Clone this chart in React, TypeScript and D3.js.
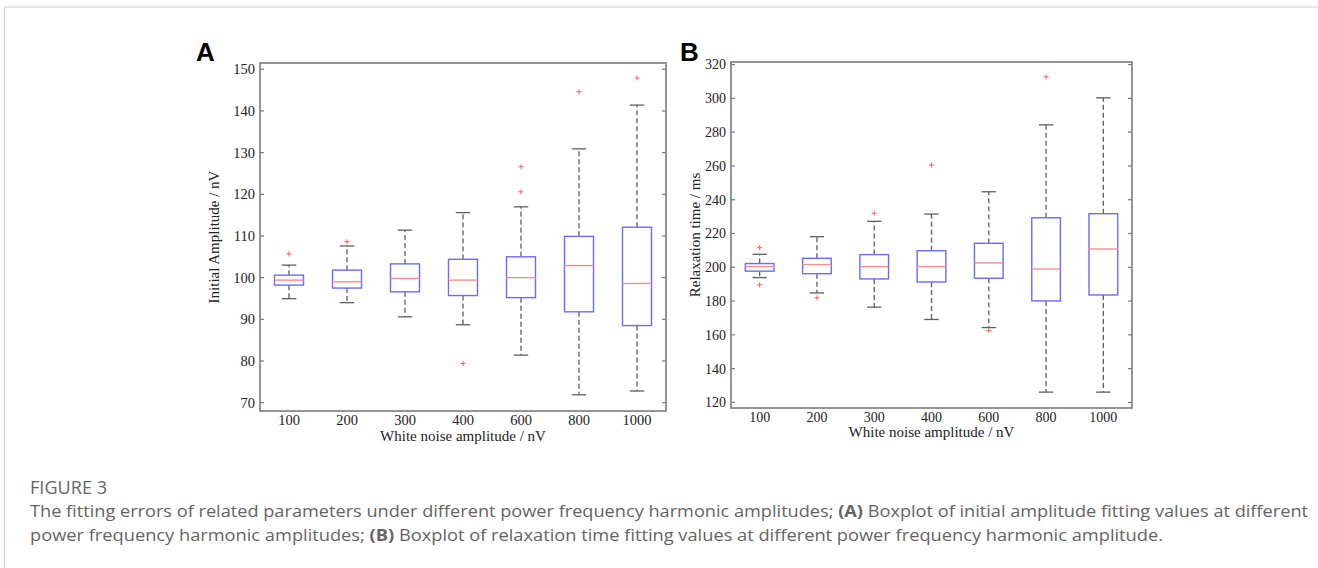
import React from "react";
import * as d3 from "d3";

const categories = ["100", "200", "300", "400", "600", "800", "1000"];

// Panel A: Initial amplitude (nV)
const aLowWhisker = [94.95, 94.0, 90.6, 88.7, 81.4, 71.9, 72.8];
const aQ1 = [98.2, 97.5, 96.6, 95.7, 95.2, 91.8, 88.5];
const aMedian = [99.4, 99.0, 99.8, 99.4, 100.0, 102.9, 98.6];
const aQ3 = [100.6, 101.8, 103.3, 104.4, 105.0, 109.9, 112.1];
const aHighWhisker = [103.0, 107.6, 111.4, 115.6, 117.0, 130.9, 141.4];
const aOutliers = [[105.7], [108.6], [], [79.4], [126.6, 120.6], [144.6], [147.9]];
const aTicks = [70, 80, 90, 100, 110, 120, 130, 140, 150];

// Panel B: Relaxation time (ms)
const bLowWhisker = [193.9, 184.8, 176.4, 169.1, 164.3, 126.1, 126.1];
const bQ1 = [197.7, 196.2, 193.1, 191.3, 193.5, 180.1, 183.6];
const bMedian = [200.4, 201.6, 200.4, 200.4, 202.6, 199.0, 210.8];
const bQ3 = [202.2, 205.3, 207.5, 209.8, 214.2, 229.3, 231.7];
const bHighWhisker = [207.7, 218.1, 227.2, 231.5, 244.7, 284.3, 300.3];
const bOutliers = [[211.6, 189.6], [181.9], [232.0], [260.5], [162.6], [312.7], []];
const bTicks = [120, 140, 160, 180, 200, 220, 240, 260, 280, 300, 320];

type PanelProps = {
  x0: number; x1: number; y0: number; y1: number;
  domain: [number, number];
  ticks: number[];
  low: number[]; q1: number[]; med: number[]; q3: number[]; high: number[];
  outliers: number[][];
  yLabel: string; xLabel: string;
  yLabelX: number; xLabelY: number;
  letter: string; letterX: number;
  tickFont: number;
};

const AXIS = "#7a7a7a";
const BOX = "#6b6bff";
const MED = "#ff8c8c";
const WHISK = "#5e5e5e";
const OUT = "#ff5a5a";
const SERIF = "'Liberation Serif', 'Times New Roman', serif";

function Panel(p: PanelProps) {
  const x = d3.scaleLinear().domain([0.5, categories.length + 0.5]).range([p.x0, p.x1]);
  const y = d3.scaleLinear().domain(p.domain).range([p.y1, p.y0]);
  const step = x(2) - x(1);
  const bw = step * 0.5;
  const cw = bw * 0.5;
  return (
    <g>
      <text x={p.letterX} y={61} fontFamily="'Liberation Sans', Arial, sans-serif" fontWeight="bold" fontSize={26} fill="#000">{p.letter}</text>
      <rect x={p.x0} y={p.y0} width={p.x1 - p.x0} height={p.y1 - p.y0} fill="none" stroke={AXIS} strokeWidth={1.6} />
      {p.ticks.map((t) => (
        <g key={t}>
          <line x1={p.x0} x2={p.x0 + 4} y1={y(t)} y2={y(t)} stroke={AXIS} strokeWidth={1.2} />
          <line x1={p.x1} x2={p.x1 - 4} y1={y(t)} y2={y(t)} stroke={AXIS} strokeWidth={1.2} />
          <text x={p.x0 - 5} y={y(t)} dy="0.35em" textAnchor="end" fontFamily={SERIF} fontSize={p.tickFont} fill="#222">{t}</text>
        </g>
      ))}
      {categories.map((c, i) => {
        const cx = x(i + 1);
        return (
          <g key={c}>
            <text x={cx} y={p.y1 + 14} textAnchor="middle" fontFamily={SERIF} fontSize={p.tickFont} fill="#222">{c}</text>
            <line x1={cx} x2={cx} y1={y(p.q3[i])} y2={y(p.high[i])} stroke={WHISK} strokeWidth={1.3} strokeDasharray="5,3" />
            <line x1={cx} x2={cx} y1={y(p.q1[i])} y2={y(p.low[i])} stroke={WHISK} strokeWidth={1.3} strokeDasharray="5,3" />
            <line x1={cx - cw / 2} x2={cx + cw / 2} y1={y(p.high[i])} y2={y(p.high[i])} stroke={WHISK} strokeWidth={1.3} />
            <line x1={cx - cw / 2} x2={cx + cw / 2} y1={y(p.low[i])} y2={y(p.low[i])} stroke={WHISK} strokeWidth={1.3} />
            <rect x={cx - bw / 2} y={y(p.q3[i])} width={bw} height={y(p.q1[i]) - y(p.q3[i])} fill="none" stroke={BOX} strokeWidth={1.4} />
            <line x1={cx - bw / 2} x2={cx + bw / 2} y1={y(p.med[i])} y2={y(p.med[i])} stroke={MED} strokeWidth={1.4} />
            {p.outliers[i].map((o, j) => (
              <g key={j} stroke={OUT} strokeWidth={1}>
                <line x1={cx - 2.5} x2={cx + 2.5} y1={y(o)} y2={y(o)} />
                <line x1={cx} x2={cx} y1={y(o) - 2.5} y2={y(o) + 2.5} />
              </g>
            ))}
          </g>
        );
      })}
      <text x={(p.x0 + p.x1) / 2} y={p.xLabelY} textAnchor="middle" fontFamily={SERIF} fontSize={15} fill="#222">{p.xLabel}</text>
      <text transform={`translate(${p.yLabelX},${(p.y0 + p.y1) / 2}) rotate(-90)`} textAnchor="middle" fontFamily={SERIF} fontSize={15} fill="#222">{p.yLabel}</text>
    </g>
  );
}

export default function App() {
  const captionFont = "'Open Sans', 'Noto Sans', sans-serif";
  return (
    <svg width={1318} height={568} style={{ position: "absolute", left: 0, top: 0, background: "#fff" }}>
      <rect x={0} y={0} width={1318} height={568} fill="#fff" />
      <line x1={4.5} x2={1318} y1={7} y2={7} stroke="#cccccc" strokeWidth={1.2} />
      <line x1={4.5} x2={4.5} y1={7} y2={568} stroke="#cccccc" strokeWidth={1.2} />
      <Panel x0={260} x1={666} y0={63} y1={411} domain={[68, 151.5]} ticks={aTicks}
        low={aLowWhisker} q1={aQ1} med={aMedian} q3={aQ3} high={aHighWhisker} outliers={aOutliers}
        yLabel="Initial Amplitude / nV" xLabel="White noise amplitude / nV" yLabelX={219} xLabelY={441}
        letter="A" letterX={196} tickFont={14.5} />
      <Panel x0={731} x1={1132} y0={62} y1={408} domain={[116.7, 321.5]} ticks={bTicks}
        low={bLowWhisker} q1={bQ1} med={bMedian} q3={bQ3} high={bHighWhisker} outliers={bOutliers}
        yLabel="Relaxation time / ms" xLabel="White noise amplitude / nV" yLabelX={700} xLabelY={437}
        letter="B" letterX={680} tickFont={14} />
      <text x={30} y={494} fontFamily={captionFont} fontSize={18} fill="#666" textLength={77} lengthAdjust="spacingAndGlyphs">FIGURE 3</text>
      <text x={30} y={517} fontFamily={captionFont} fontSize={16} fill="#646464" textLength={1278} lengthAdjust="spacingAndGlyphs">
        The fitting errors of related parameters under different power frequency harmonic amplitudes; <tspan fontWeight="bold">(A)</tspan> Boxplot of initial amplitude fitting values at different
      </text>
      <text x={30} y={541} fontFamily={captionFont} fontSize={16} fill="#646464" textLength={1133} lengthAdjust="spacingAndGlyphs">
        power frequency harmonic amplitudes; <tspan fontWeight="bold">(B)</tspan> Boxplot of relaxation time fitting values at different power frequency harmonic amplitude.
      </text>
    </svg>
  );
}
